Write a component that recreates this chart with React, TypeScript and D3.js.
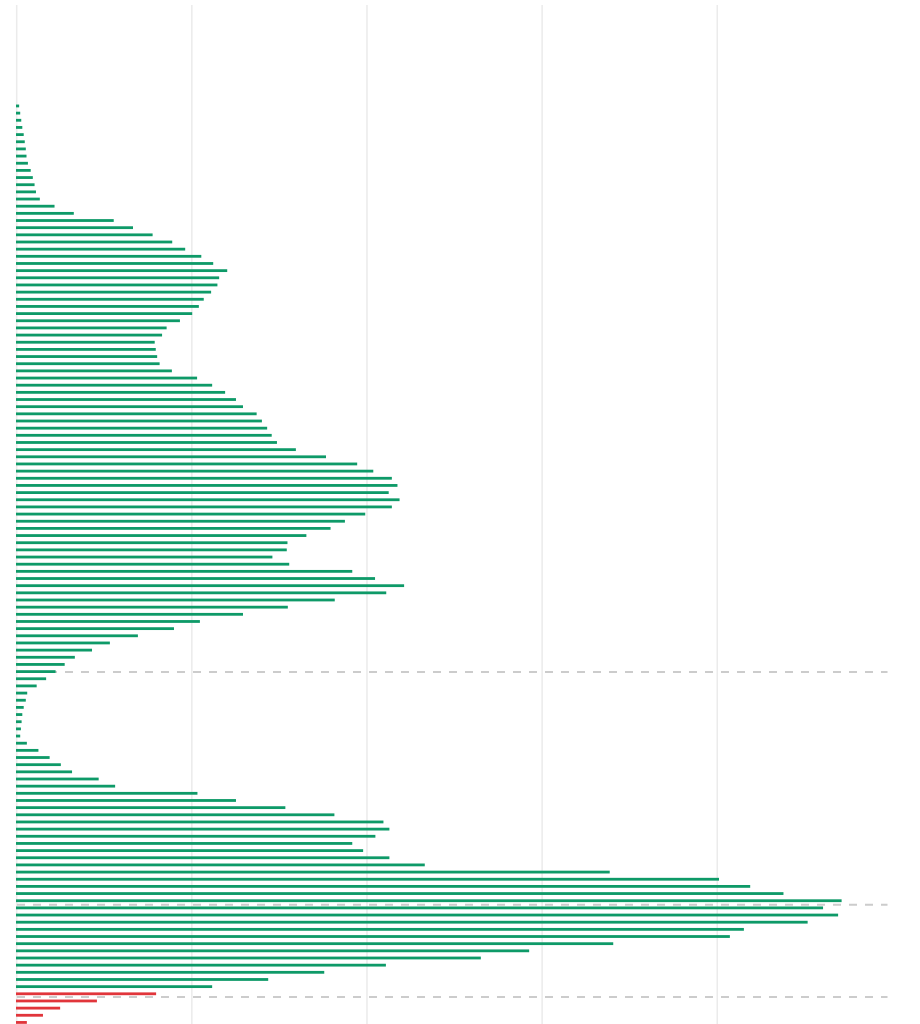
import React from "react";
import * as d3 from "d3";

// Row values (top to bottom), one bar per row
const greenValues: number[] = [
  0.9, 1.2, 1.5, 1.8, 2.2, 2.5, 2.8, 3.0, 3.4, 4.2, 4.8, 5.3, 5.7, 6.8,
  11.0, 16.5, 27.9, 33.4, 39.0, 44.6, 48.3, 52.9, 56.3, 60.3, 58.0, 57.5,
  55.7, 53.6, 52.2, 50.3, 46.8, 43.0, 41.7, 39.6, 39.9, 40.3, 41.0, 44.5,
  51.7, 56.0, 59.7, 62.8, 64.8, 68.7, 70.2, 71.7, 73.0, 74.5, 79.9, 88.5,
  97.4, 102.0, 107.3, 108.9, 106.4, 109.5, 107.3, 99.7, 93.9, 89.8, 82.9,
  77.5, 77.3, 73.2, 78.0, 96.0, 102.5, 110.8, 105.7, 91.0, 77.6, 64.8, 52.5,
  45.1, 34.8, 26.8, 21.7, 16.8, 13.9, 11.3, 8.6, 5.9, 3.2, 2.8, 2.2, 1.8,
  1.6, 1.4, 1.2, 3.1, 6.4, 9.6, 12.8, 16.0, 23.6, 28.3, 51.8, 62.8, 76.9,
  90.9, 104.9, 106.6, 102.6, 96.0, 99.1, 106.6, 116.7, 169.5, 200.7, 209.6,
  219.1, 235.7, 230.4, 234.7, 226.0, 207.8, 203.8, 170.5, 146.5, 132.7,
  105.6, 88.0, 72.0, 56.0,
];
const redValues: number[] = [40.0, 23.1, 12.6, 7.7, 3.1];

// Row positions of the dashed reference lines
const markerRows: number[] = [79.05, 111.55, 124.45];

const rows = [
  ...greenValues.map((v) => ({ value: v, kind: "up" })),
  ...redValues.map((v) => ({ value: v, kind: "down" })),
];

const W = 920;
const H = 1024;
const GREEN = "#0e9a68";
const RED = "#e1353b";

export default function App() {
  const x = d3.scaleLinear().domain([0, 248.6]).range([16, 886.8]);
  const y = d3
    .scaleLinear()
    .domain([-14.1, rows.length - 1])
    .range([5, 5 + (rows.length - 1 + 14.1) * 7.16]);
  const ticks = x.ticks(5);
  const barH = 2.8;

  return (
    <div style={{ position: "absolute", left: 0, top: 0, width: W, height: H, overflow: "hidden" }}>
      <svg width={W} height={H} style={{ display: "block" }}>
        <g>
          {ticks.map((t) => (
            <line
              key={t}
              x1={x(t) + 0.7}
              x2={x(t) + 0.7}
              y1={5}
              y2={H + 20}
              stroke="#ebebeb"
              strokeWidth={1.5}
            />
          ))}
        </g>
        <g>
          {markerRows.map((r, i) => (
            <line
              key={i}
              x1={x(0) + 1}
              x2={x.range()[1] + 0.7}
              y1={y(r)}
              y2={y(r)}
              stroke="#cccccc"
              strokeWidth={2}
              strokeDasharray="8 8"
            />
          ))}
        </g>
        <g>
          {rows.map((d, i) => (
            <rect
              key={i}
              x={x(0)}
              y={y(i) - barH / 2}
              width={Math.max(0, x(d.value) - x(0))}
              height={barH}
              fill={d.kind === "up" ? GREEN : RED}
            />
          ))}
        </g>
      </svg>
    </div>
  );
}
